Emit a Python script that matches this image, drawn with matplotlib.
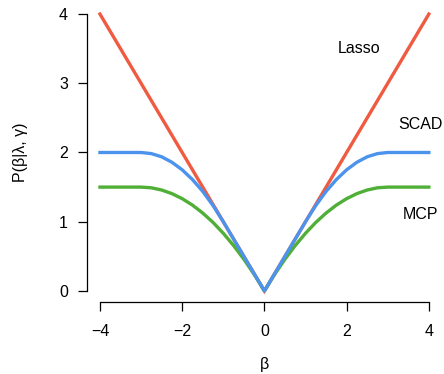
import matplotlib
matplotlib.use("Agg")
import matplotlib.pyplot as plt

# ── penalty curves (lambda = 1, gamma = 3) ──
beta = [-4.0, -3.75, -3.5, -3.25, -3.0, -2.75, -2.5, -2.25, -2.0, -1.75,
        -1.5, -1.25, -1.0, -0.75, -0.5, -0.25, 0.0, 0.25, 0.5, 0.75,
        1.0, 1.25, 1.5, 1.75, 2.0, 2.25, 2.5, 2.75, 3.0, 3.25, 3.5,
        3.75, 4.0]
scad = [2.0, 2.0, 2.0, 2.0, 2.0, 1.984, 1.938, 1.859, 1.75, 1.609,
        1.438, 1.234, 1.0, 0.75, 0.5, 0.25, 0.0, 0.25, 0.5, 0.75,
        1.0, 1.234, 1.438, 1.609, 1.75, 1.859, 1.938, 1.984, 2.0, 2.0, 2.0,
        2.0, 2.0]
mcp = [1.5, 1.5, 1.5, 1.5, 1.5, 1.490, 1.458, 1.406, 1.333, 1.240,
       1.125, 0.990, 0.833, 0.656, 0.458, 0.240, 0.0, 0.240, 0.458, 0.656,
       0.833, 0.990, 1.125, 1.240, 1.333, 1.406, 1.458, 1.490, 1.5, 1.5, 1.5,
       1.5, 1.5]
lasso_x = [-4.0, 0.0, 4.0]
lasso_y = [4.0, 0.0, 4.0]

x_ticks = [-4, -2, 0, 2, 4]
y_ticks = [0, 1, 2, 3, 4]

CLR_LASSO = "#F05A40"
CLR_SCAD = "#4B93EC"
CLR_MCP = "#4FAF36"
FS = 11.5

plt.rcParams["font.family"] = ["Liberation Sans", "DejaVu Sans"]

fig = plt.figure(figsize=(4.44, 3.74), dpi=100)
ax = fig.add_axes([0.1955, 0.1925, 0.80, 0.7995])

ax.plot(lasso_x, lasso_y, color=CLR_LASSO, lw=2.4, solid_joinstyle="miter")
ax.plot(beta, mcp, color=CLR_MCP, lw=2.4)
ax.plot(beta, scad, color=CLR_SCAD, lw=2.4)

ax.text(2.3, 3.5, "Lasso", ha="center", va="center", fontsize=FS)
ax.text(3.8, 2.4, "SCAD", ha="center", va="center", fontsize=FS)
ax.text(3.8, 1.1, "MCP", ha="center", va="center", fontsize=FS)

ax.set_xlim(-4.32, 4.32)
ax.set_ylim(-0.16, 4.16)
ax.set_xticks(x_ticks)
ax.set_yticks(y_ticks)
ax.set_xticklabels(["\u22124", "\u22122", "0", "2", "4"])

for s in ["top", "right"]:
    ax.spines[s].set_visible(False)
ax.spines["left"].set_bounds(0, 4)
ax.spines["bottom"].set_bounds(-4, 4)
for s in ["left", "bottom"]:
    ax.spines[s].set_linewidth(0.9)

ax.tick_params(direction="out", length=6.5, width=0.9, labelsize=FS)
ax.tick_params(axis="x", pad=9)
ax.tick_params(axis="y", pad=7)

ax.set_xlabel("\u03b2", fontsize=FS, labelpad=13)
ax.set_ylabel("P(\u03b2|\u03bb, \u03b3)", fontsize=FS, labelpad=22)

fig.savefig("out.png", dpi=100)
